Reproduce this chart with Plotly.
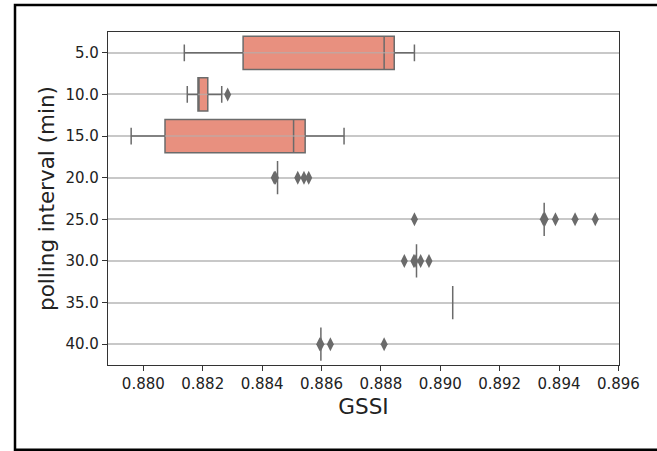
import plotly.graph_objects as go

# ---------------- data ----------------
categories = ["5.0", "10.0", "15.0", "20.0", "25.0", "30.0", "35.0", "40.0"]
lower_whisker = [0.88138, 0.88148, 0.87959, 0.88452, 0.89350, 0.88920, 0.89042, 0.88598]
q1_values     = [0.88336, 0.88184, 0.88073, 0.88452, 0.89350, 0.88920, 0.89042, 0.88598]
median_values = [0.88811, 0.88184, 0.88506, 0.88452, 0.89350, 0.88920, 0.89042, 0.88598]
q3_values     = [0.88845, 0.88217, 0.88545, 0.88452, 0.89350, 0.88920, 0.89042, 0.88598]
upper_whisker = [0.88913, 0.88264, 0.88676, 0.88452, 0.89350, 0.88920, 0.89042, 0.88598]

outlier_cat = ["10.0",
               "20.0", "20.0", "20.0", "20.0", "20.0",
               "25.0", "25.0", "25.0", "25.0", "25.0", "25.0",
               "30.0", "30.0", "30.0", "30.0", "30.0",
               "40.0", "40.0", "40.0", "40.0"]
outlier_gssi = [0.88284,
                0.88441, 0.88445, 0.88520, 0.88541, 0.88557,
                0.88913, 0.89347, 0.89353, 0.89388, 0.89454, 0.89522,
                0.88879, 0.88911, 0.88915, 0.88934, 0.88962,
                0.88594, 0.88598, 0.88630, 0.88811]

x_tick_vals = [0.880, 0.882, 0.884, 0.886, 0.888, 0.890, 0.892, 0.894, 0.896]
x_tick_text = ["0.880", "0.882", "0.884", "0.886", "0.888", "0.890", "0.892", "0.894", "0.896"]

# ---------------- style ----------------
FONT = "DejaVu Sans"
BOX_FILL = "#E8907F"
LINE_GRAY = "#6B6B6B"
GRID = "#C8C8C8"

fig = go.Figure()

fig.add_trace(go.Box(
    y=categories,
    q1=q1_values,
    median=median_values,
    q3=q3_values,
    lowerfence=lower_whisker,
    upperfence=upper_whisker,
    orientation="h",
    width=0.8,
    whiskerwidth=0.5,
    fillcolor=BOX_FILL,
    line=dict(color=LINE_GRAY, width=1.5),
    boxpoints=False,
    hoverinfo="skip",
    showlegend=False,
))

# grid line showing through the box bodies (matplotlib draws grid above patches)
gx, gy = [], []
for c, a, b in zip(categories, q1_values, q3_values):
    if b > a:
        gx += [a, b, None]
        gy += [c, c, None]
fig.add_trace(go.Scatter(
    x=gx, y=gy, mode="lines",
    line=dict(color="rgba(176,176,176,0.65)", width=1.5),
    hoverinfo="skip", showlegend=False,
))

fig.add_trace(go.Scatter(
    x=outlier_gssi, y=outlier_cat, mode="markers",
    marker=dict(symbol="diamond-tall", size=10, color=LINE_GRAY,
                line=dict(width=0)),
    hoverinfo="skip", showlegend=False,
))

# plot area in pixels: x 108..619, y 32..365
L, R, T, B = 108, 619, 32, 365
W, H = 657, 451
pw, ph = R - L, B - T

def px_x(p):
    return (p - L) / pw

def px_y(p):
    return (B - p) / ph

fig.update_layout(
    width=W, height=H,
    margin=dict(l=L, r=W - R, t=T, b=H - B, pad=0),
    paper_bgcolor="white",
    plot_bgcolor="white",
    font=dict(family=FONT, size=15, color="#222222"),
    showlegend=False,
    xaxis=dict(
        range=[0.87881, 0.89602],
        tickmode="array", tickvals=x_tick_vals, ticktext=x_tick_text,
        ticks="outside", ticklen=5, tickwidth=1.2, tickcolor="#333333",
        showline=True, linecolor="#333333", linewidth=1.3, mirror=True,
        showgrid=False, zeroline=False,
        tickfont=dict(family=FONT, size=15, color="#222222"),
        title=dict(text="GSSI", font=dict(family=FONT, size=21.5, color="#222222"), standoff=6),
        automargin=False,
    ),
    yaxis=dict(
        type="category",
        categoryorder="array", categoryarray=categories,
        range=[7.5, -0.5],
        ticks="outside", ticklen=5, tickwidth=1.2, tickcolor="#333333",
        showline=True, linecolor="#333333", linewidth=1.3, mirror=True,
        showgrid=True, gridcolor=GRID, gridwidth=1.5,
        zeroline=False,
        tickfont=dict(family=FONT, size=15, color="#222222"),
        title=dict(text="polling interval (min)", font=dict(family=FONT, size=21.5, color="#222222"), standoff=4),
        automargin=False,
    ),
    shapes=[dict(
        type="rect", xref="paper", yref="paper",
        x0=px_x(15), x1=px_x(662), y0=px_y(449.8), y1=px_y(5),
        line=dict(color="black", width=2.5), fillcolor="rgba(0,0,0,0)",
        layer="above",
    )],
)

fig.write_html("out.html")
